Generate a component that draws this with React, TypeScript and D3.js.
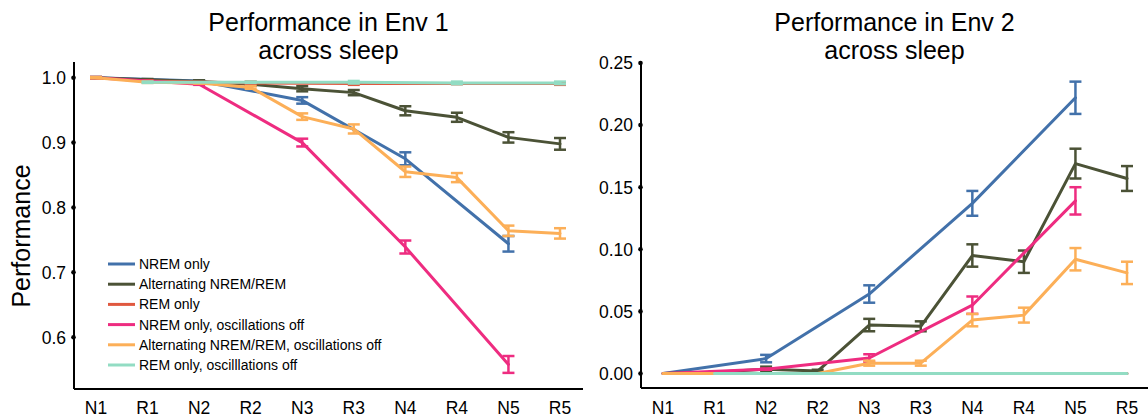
import React from "react";
import * as d3 from "d3";

const categories = ["N1", "R1", "N2", "R2", "N3", "R3", "N4", "R4", "N5", "R5"];
const nremCats = ["N1", "N2", "N3", "N4", "N5"];
const remCats = ["R1", "R2", "R3", "R4", "R5"];

const seriesNames = [
  "NREM only",
  "Alternating NREM/REM",
  "REM only",
  "NREM only, oscillations off",
  "Alternating NREM/REM, oscillations off",
  "REM only, oscilllations off",
];
const seriesColors = ["#4271aa", "#4b5236", "#e0583f", "#ee2c80", "#fcaf58", "#92dcc3"];

// Env 1
const env1NremOnly = [1.0, 0.995, 0.965, 0.875, 0.744];
const env1NremOnlyErr = [0.001, 0.001, 0.005, 0.01, 0.012];
const env1Alt = [1.0, 0.997, 0.994, 0.99, 0.983, 0.977, 0.949, 0.939, 0.908, 0.898];
const env1AltErr = [0.001, 0.001, 0.002, 0.002, 0.004, 0.004, 0.007, 0.007, 0.008, 0.009];
const env1RemOnly = [0.995, 0.992, 0.991, 0.991, 0.991];
const env1RemOnlyErr = [0.001, 0.002, 0.002, 0.001, 0.002];
const env1NremOff = [1.0, 0.99, 0.9, 0.739, 0.558];
const env1NremOffErr = [0.001, 0.001, 0.006, 0.01, 0.013];
const env1AltOff = [1.0, 0.993, 0.992, 0.985, 0.94, 0.921, 0.855, 0.846, 0.764, 0.76];
const env1AltOffErr = [0.001, 0.001, 0.001, 0.002, 0.005, 0.007, 0.008, 0.007, 0.008, 0.008];
const env1RemOff = [0.993, 0.993, 0.993, 0.992, 0.992];
const env1RemOffErr = [0.001, 0.001, 0.002, 0.002, 0.002];

// Env 2
const env2NremOnly = [0.0, 0.012, 0.064, 0.137, 0.222];
const env2NremOnlyErr = [0.0, 0.003, 0.007, 0.01, 0.013];
const env2Alt = [0.0, 0.001, 0.0035, 0.002, 0.039, 0.038, 0.095, 0.09, 0.169, 0.157];
const env2AltErr = [0.0, 0.0005, 0.002, 0.001, 0.005, 0.004, 0.009, 0.009, 0.012, 0.01];
const env2RemOnly = [0.0, 0.0, 0.0, 0.0, 0.0];
const env2RemOnlyErr = [0.0, 0.0, 0.0, 0.0, 0.0];
const env2NremOff = [0.0, 0.0035, 0.0125, 0.055, 0.139];
const env2NremOffErr = [0.0, 0.0005, 0.003, 0.007, 0.011];
const env2AltOff = [0.0, 0.0, 0.0, 0.0, 0.0083, 0.0083, 0.043, 0.047, 0.092, 0.081];
const env2AltOffErr = [0.0, 0.0, 0.0, 0.0, 0.002, 0.002, 0.005, 0.006, 0.009, 0.009];
const env2RemOff = [0.0, 0.0, 0.0, 0.0, 0.0];
const env2RemOffErr = [0.0, 0.0, 0.0, 0.0, 0.0];

const env1Ticks = [0.6, 0.7, 0.8, 0.9, 1.0];
const env2Ticks = [0.0, 0.05, 0.1, 0.15, 0.2, 0.25];

type Series = { cats: string[]; vals: number[]; errs: number[] };

const env1Series: Series[] = [
  { cats: nremCats, vals: env1NremOnly, errs: env1NremOnlyErr },
  { cats: categories, vals: env1Alt, errs: env1AltErr },
  { cats: remCats, vals: env1RemOnly, errs: env1RemOnlyErr },
  { cats: nremCats, vals: env1NremOff, errs: env1NremOffErr },
  { cats: categories, vals: env1AltOff, errs: env1AltOffErr },
  { cats: remCats, vals: env1RemOff, errs: env1RemOffErr },
];
const env2Series: Series[] = [
  { cats: nremCats, vals: env2NremOnly, errs: env2NremOnlyErr },
  { cats: categories, vals: env2Alt, errs: env2AltErr },
  { cats: remCats, vals: env2RemOnly, errs: env2RemOnlyErr },
  { cats: nremCats, vals: env2NremOff, errs: env2NremOffErr },
  { cats: categories, vals: env2AltOff, errs: env2AltOffErr },
  { cats: remCats, vals: env2RemOff, errs: env2RemOffErr },
];

const FONT = "'Liberation Sans', Arial, Helvetica, sans-serif";

type PanelProps = {
  title: string[];
  series: Series[];
  x: d3.ScalePoint<string>;
  y: d3.ScaleLinear<number, number>;
  ticks: number[];
  fmt: (v: number) => string;
  axisX: number;
  axisTop: number;
  axisBottom: number;
  axisRight: number;
};

function Panel({ title, series, x, y, ticks, fmt, axisX, axisTop, axisBottom, axisRight }: PanelProps) {
  const cx = (axisX + axisRight) / 2;
  const line = d3
    .line<[string, number]>()
    .x((d) => x(d[0]) as number)
    .y((d) => y(d[1]));
  return (
    <g>
      <text x={cx} y={31} textAnchor="middle" fontSize={25} fontFamily={FONT} fill="#000">
        {title[0]}
      </text>
      <text x={cx} y={59} textAnchor="middle" fontSize={25} fontFamily={FONT} fill="#000">
        {title[1]}
      </text>
      {series.map((s, i) => (
        <g key={i}>
          <path
            d={line(s.cats.map((c, j) => [c, s.vals[j]] as [string, number])) || ""}
            fill="none"
            stroke={seriesColors[i]}
            strokeWidth={3}
            strokeLinejoin="round"
            strokeLinecap="round"
          />
          {s.cats.map((c, j) => {
            const px = x(c) as number;
            const e = s.errs[j];
            if (e <= 0) return null;
            const y1 = y(s.vals[j] - e);
            const y2 = y(s.vals[j] + e);
            return (
              <g key={j} stroke={seriesColors[i]} strokeWidth={2.5}>
                <line x1={px} x2={px} y1={y1} y2={y2} />
                <line x1={px - 6} x2={px + 6} y1={y1} y2={y1} />
                <line x1={px - 6} x2={px + 6} y1={y2} y2={y2} />
              </g>
            );
          })}
        </g>
      ))}
      <line x1={axisX} x2={axisX} y1={axisTop} y2={axisBottom} stroke="#000" strokeWidth={2} />
      <line x1={axisX} x2={axisRight} y1={axisBottom} y2={axisBottom} stroke="#000" strokeWidth={2} />
      {ticks.map((t) => (
        <g key={t}>
          <circle cx={axisX - 0.5} cy={y(t)} r={2.3} fill="#000" />
          <text
            x={axisX - 8}
            y={y(t)}
            dy="0.36em"
            textAnchor="end"
            fontSize={17.5}
            fontFamily={FONT}
            fill="#000"
          >
            {fmt(t)}
          </text>
        </g>
      ))}
      {categories.map((c) => (
        <text key={c} x={x(c) as number} y={414} textAnchor="middle" fontSize={17.5} fontFamily={FONT} fill="#000">
          {c}
        </text>
      ))}
    </g>
  );
}

export default function App() {
  const x1 = d3.scalePoint<string>().domain(categories).range([96, 560]);
  const y1 = d3.scaleLinear().domain([0.6, 1.0]).range([337.2, 77.7]);
  const x2 = d3.scalePoint<string>().domain(categories).range([663, 1127]);
  const y2 = d3.scaleLinear().domain([0, 0.25]).range([373.5, 63]);

  const legendX = 108;
  const legendY = 264;
  const legendStep = 20.2;

  return (
    <svg
      width={1148}
      height={417}
      style={{ position: "absolute", left: 0, top: 0, background: "#fff" }}
    >
      <rect width={1148} height={417} fill="#fff" />
      <Panel
        title={["Performance in Env 1", "across sleep"]}
        series={env1Series}
        x={x1}
        y={y1}
        ticks={env1Ticks}
        fmt={d3.format(".1f")}
        axisX={74}
        axisTop={62}
        axisBottom={389}
        axisRight={583}
      />
      <Panel
        title={["Performance in Env 2", "across sleep"]}
        series={env2Series}
        x={x2}
        y={y2}
        ticks={env2Ticks}
        fmt={d3.format(".2f")}
        axisX={641}
        axisTop={y2(0.25)}
        axisBottom={388}
        axisRight={1148}
      />
      <text
        transform="translate(30,236) rotate(-90)"
        textAnchor="middle"
        fontSize={25}
        fontFamily={FONT}
        fill="#000"
      >
        Performance
      </text>
      {seriesNames.map((n, i) => (
        <g key={n}>
          <line
            x1={legendX}
            x2={legendX + 27}
            y1={legendY + i * legendStep}
            y2={legendY + i * legendStep}
            stroke={seriesColors[i]}
            strokeWidth={3}
          />
          <text
            x={legendX + 31}
            y={legendY + i * legendStep}
            dy="0.36em"
            fontSize={14}
            fontFamily={FONT}
            fill="#000"
          >
            {n}
          </text>
        </g>
      ))}
    </svg>
  );
}
